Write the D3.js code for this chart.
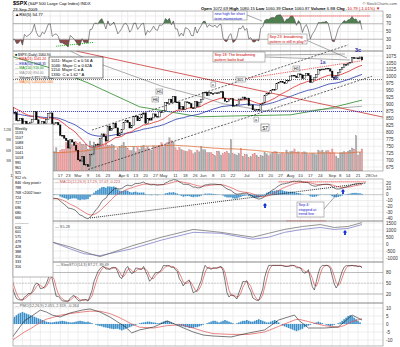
<!DOCTYPE html>
<html><head><meta charset="utf-8">
<script src="https://cdn.jsdelivr.net/npm/d3@7"></script>
<style>body{margin:0;background:#fff}svg{display:block;font-family:"Liberation Sans",Arial,sans-serif}</style>
</head><body><svg id="c" width="400" height="347"></svg>
<script>
// ---------------- DATA ----------------
const monthKeys = ["2008-12","2009-01","2009-02","2009-03","2009-04","2009-05","2009-06","2009-07","2009-08","2009-09"];
const monthDays = [
 [1,2,3,4,5,8,9,10,11,12,15,16,17,18,19,22,23,24,26,29,30,31],
 [2,5,6,7,8,9,12,13,14,15,16,20,21,22,23,26,27,28,29,30],
 [2,3,4,5,6,9,10,11,12,13,17,18,19,20,23,24,25,26,27],
 [2,3,4,5,6,9,10,11,12,13,16,17,18,19,20,23,24,25,26,27,30,31],
 [1,2,3,6,7,8,9,13,14,15,16,17,20,21,22,23,24,27,28,29,30],
 [1,4,5,6,7,8,11,12,13,14,15,18,19,20,21,22,26,27,28,29],
 [1,2,3,4,5,8,9,10,11,12,15,16,17,18,19,22,23,24,25,26,29,30],
 [1,2,6,7,8,9,10,13,14,15,16,17,20,21,22,23,24,27,28,29,30,31],
 [3,4,5,6,7,10,11,12,13,14,17,18,19,20,21,24,25,26,27,28,31],
 [1,2,3,4,8,9,10,11,14,15,16,17,18,21,22,23]
];
const futureDates = ["2009-09-24","2009-09-25","2009-09-28","2009-09-29","2009-09-30","2009-10-01","2009-10-02","2009-10-05","2009-10-06","2009-10-07","2009-10-08","2009-10-09"];
const closes = [
 816.2,848.8,870.7,845.2,876.1,909.7,888.7,899.2,873.6,879.7,868.6,913.2,904.4,885.3,887.9,871.6,863.2,868.2,872.8,869.4,890.6,903.3,
 931.8,927.5,934.7,906.7,909.7,890.4,870.3,871.8,842.6,843.7,850.1,805.2,840.2,827.5,832.0,836.6,845.7,874.1,845.1,825.9,
 825.4,838.5,832.2,845.9,868.6,869.9,827.2,833.7,835.2,826.8,789.2,788.4,778.9,770.1,743.3,773.1,764.9,752.8,735.1,
 700.8,696.3,712.9,682.6,683.4,676.5,719.6,721.4,750.7,756.6,753.9,778.1,794.4,784.0,768.5,822.9,806.1,813.9,832.9,815.9,787.5,797.9,
 811.1,834.4,842.5,835.5,815.6,825.2,856.6,858.7,841.5,852.1,865.3,869.6,832.4,850.1,843.6,851.9,866.2,857.5,855.2,873.6,872.8,
 877.5,907.2,903.8,919.5,907.4,929.2,909.2,908.4,883.9,893.1,882.9,909.7,908.1,903.5,888.3,887.0,910.3,893.1,906.8,919.1,
 942.9,944.7,931.8,942.5,940.1,939.1,942.4,939.2,944.9,946.2,923.7,912.0,910.7,918.4,921.2,893.0,895.1,900.9,920.3,918.9,927.2,919.3,
 923.3,896.4,898.7,881.0,879.6,882.7,879.1,901.1,905.8,932.7,940.7,940.4,951.1,954.6,954.1,976.3,979.3,982.2,979.6,975.2,986.8,987.5,
 1002.6,1005.7,1002.7,997.1,1010.5,1007.1,994.4,1005.8,1012.7,1004.1,979.7,989.7,996.5,1007.4,1026.1,1025.6,1028.0,1028.1,1031.0,1028.9,1020.6,
 998.0,994.8,1003.2,1016.4,1025.4,1033.4,1044.1,1042.7,1049.3,1052.6,1068.8,1065.5,1068.3,1064.7,1071.7,1060.9
];
const volumes = [
 5.0,6.0,5.5,5.2,5.5,5.6,5.8,5.4,5.3,5.1,5.0,6.4,5.8,5.9,6.8,4.3,3.9,1.5,1.4,3.3,3.6,3.8,
 4.0,4.2,5.6,4.7,5.0,4.6,4.7,5.4,6.2,7.6,5.9,6.4,6.4,5.7,5.0,4.6,5.2,7.0,5.3,5.8,
 5.8,5.3,6.4,6.1,5.6,5.0,6.9,5.6,6.7,5.3,5.9,6.2,6.2,8.2,7.1,7.6,7.5,7.0,8.4,
 7.9,8.3,7.7,7.6,7.7,6.3,8.6,7.4,8.3,6.9,7.9,8.1,9.2,7.2,10.6,7.3,7.3,7.7,7.3,6.0,6.4,6.9,
 7.3,8.1,6.9,6.4,5.9,5.9,6.9,5.5,6.8,6.2,7.0,7.4,6.4,7.0,6.3,6.0,7.2,6.8,7.0,7.3,8.1,
 6.9,7.6,8.2,9.5,8.7,8.4,6.7,6.0,6.8,6.2,5.9,5.7,5.6,6.1,5.9,4.9,5.3,6.0,5.5,7.1,
 6.1,6.1,5.3,5.3,5.3,4.8,4.4,5.7,5.6,4.6,4.9,5.3,5.6,5.0,9.0,4.9,4.8,4.6,5.0,6.4,4.2,4.7,
 4.7,3.8,4.1,4.8,5.0,4.5,4.0,4.5,4.3,5.2,4.9,4.4,4.9,5.4,5.6,5.5,4.8,5.0,5.2,4.9,6.0,5.2,
 5.6,5.7,6.3,5.4,5.5,4.9,5.4,5.5,5.2,4.8,4.9,5.1,4.9,4.7,6.0,5.6,6.0,5.3,5.8,5.9,5.3,
 6.3,5.2,4.3,3.7,5.2,5.3,5.6,5.2,5.7,6.0,6.6,6.3,10.1,4.6,5.3,6.3
];
const tickDates = ["2009-01-12","2009-01-20","2009-01-26","2009-02-02","2009-02-09","2009-02-17","2009-02-23","2009-03-02","2009-03-09","2009-03-16","2009-03-23","2009-04-01","2009-04-06","2009-04-13","2009-04-20","2009-04-27","2009-05-01","2009-05-11","2009-05-18","2009-05-26","2009-06-01","2009-06-08","2009-06-15","2009-06-22","2009-07-01","2009-07-13","2009-07-20","2009-07-27","2009-08-03","2009-08-10","2009-08-17","2009-08-24","2009-09-01","2009-09-08","2009-09-14","2009-09-21","2009-09-28","2009-10-01"];
const tickLabels = ["12","20","26","Feb","9","17","23","Mar","9","16","23","Apr","6","13","20","27","May","11","18","26","Jun","8","15","22","Jul","13","20","27","Aug","10","17","24","Sep","8","14","21","28","Oct"];
const priceTicks = [1075,1050,1025,1000,975,950,925,900,875,850,825,800,775,750,725,700,675];
const volTicks = [12,9,6,3];
const rsiTicks = [90,70,50,30,10];
const macdTicks = [20,10,0,-10,-20,-30,-40];
const p4Ticks = [1500,1000,500,0,-500,-1000];
const stoTicks = [80,50,20];
const p6Ticks = [10,5,0,-5,-10];
// panel 4 (two cumulative lines)
const p4Dates = ["2009-02-10","2009-02-24","2009-03-05","2009-03-17","2009-04-08","2009-04-30","2009-05-22","2009-06-12","2009-07-07","2009-07-17","2009-07-29","2009-08-11","2009-08-24","2009-09-02","2009-09-14","2009-09-23"];
const p4Black = [139,-208,-556,-903,-139,486,1042,833,486,764,1042,1250,1389,1181,1250,1528];
const p4Purple = [139,-347,-694,-833,-347,278,833,764,347,486,833,1042,1181,1042,1111,1389];
// panel 6 (momentum oscillator)
const p6Dates = ["2009-01-12","2009-01-21","2009-01-26","2009-02-02","2009-02-05","2009-02-10","2009-02-17","2009-02-24","2009-03-04","2009-03-10","2009-03-17","2009-03-24","2009-03-30","2009-04-03","2009-04-08","2009-04-15","2009-04-24","2009-05-05","2009-05-14","2009-05-22","2009-06-01","2009-06-08","2009-06-19","2009-07-02","2009-07-15","2009-07-24","2009-08-05","2009-08-07","2009-08-14","2009-08-26","2009-09-04","2009-09-10","2009-09-16","2009-09-23"];
const p6Black = [-8.1,2,4.4,8.7,7.5,5.6,4.4,6.9,8.7,9.4,7.5,4.4,1.2,-1.9,-5.6,-3.7,-1.9,1.9,-1.9,-5,-6.9,-7.5,-8.1,-5.6,-3.7,2.5,5.6,2.5,-2.5,-2.5,-1.9,1.2,5.6,2.5];
const p6Red = [-10,-5,-3,1,3,4,5.5,6.5,7.5,8,8,6.5,4.5,2,0,-2,-2.5,-1,-0.5,-2.5,-4.5,-6,-6.5,-6.5,-5,-1.5,2.5,3,1.5,-1,-2,-1,1.5,3.3];
const p6HistStart = "2009-01-09";
const p6Hist = [2,3,4.5,5.5,6.5,7,7.5,7,6.5,6,5.5,5,4.5,4,3.5,3,2.5,2,1.5,1.2,1,1,1.2,1.5,1.5,1.8,2,1.8,1.5,1.2,1,1,1.2,1.5,1.8,2,1.8,1.5,1.2,1.5,
 1,0.5,0,-0.5,-1,-1.2,-1.5,-2,-2.2,-2.5,-2.8,-3,-3.2,-3,-3,-3.5,-4,-3.5,-3,-2.5,-2,-1.5,-1,-0.5,0,0.5,0.8,1,1.2,1.5,
 1.5,1.2,1,0.8,0.5,0.5,1,1.5,2,2,1.5,1,0.5,0,-0.5,-1,-1.5,-1.5,-2,-2,-2.5,-2.5,-2.5,-2,-2,-1.5,-1,-0.5,0,0.5,1,1.5,2,2,1.5,1,1.5,2,2.5,2,
 1.5,1,0.5,0,0.5,1,1.5,2,2,2.5,2,1.5,1.5,2,2.5,3,2.5,2,1.5,1,1,1.5,2,2.5,2,1,0,-1,-1.5,-2,-2.5,-3,-3.5,-4,-4.5,-4,-3.5,-3,-2,-1.5,
 -1,-0.5,0,0.5,1,1.5,1,0.5,0,-0.5,-1,-1.5,-1,-0.5,0,0.5,1,2,3,4,5,5.5,5,4,3,2,1];
// long moving averages (estimated) and trend lines: [date, value]
const ma200 = [["2009-02-20",1100],["2009-03-09",1062],["2009-04-01",1018],["2009-05-01",964],["2009-06-01",926],["2009-06-15",903],["2009-07-15",878],["2009-08-14",878],["2009-09-23",894]];
const ma150 = [["2009-01-09",1075],["2009-02-10",1030],["2009-03-09",978],["2009-04-15",892],["2009-05-28",856],["2009-07-01",860],["2009-08-03",863],["2009-09-01",889],["2009-09-23",916]];
const trendRed = [["2009-02-27",1093],["2009-10-08",854]];
const trendUpper = [["2009-03-11",808],["2009-09-14",1115]];
const trendLower = [["2009-03-09",666],["2009-09-30",1002]];
const channelRed = [["2009-06-24",989],["2009-09-23",1058]];
const macdTrend = [["2009-03-10",-40],["2009-09-25",20]];
const macdRedLevel = [["2009-07-24",22],["2009-09-25",22]];
const p4RedLevel = [["2009-07-30",1650],["2009-08-27",1650]];
const level1 = 990, level2 = 875;
const pivotLevels = ["Weekly","1133","1107","1088","1061","1041","1018","991","961","925","912 r/s","846 <key pivot>","788","768 <2002 low>","724","717","696","680","666","-----------","616","601","575","479","428","388","356","333","316"];
const waveBox = ["1011: Major C = 0.56 A","1046: Major C = 0.62A","1154: Major C = A","1330: C = 1.62 * A"];

// ---------------- HELPERS ----------------
const dates = [];
monthKeys.forEach((m,k)=>monthDays[k].forEach(d=>dates.push(m+"-"+String(d).padStart(2,"0"))));
const allDates = dates.concat(futureDates);
const idx = d => allDates.indexOf(d);
function ema(a,n){const k=2/(n+1);let e=a[0];return a.map((v,i)=>(e=i?v*k+e*(1-k):v));}
function sma(a,n){return a.map((v,i)=>{const s=a.slice(Math.max(0,i-n+1),i+1);return d3.mean(s);});}
function rsi(c,n){const out=c.map(()=>null);let g=0,l=0;for(let i=1;i<=n;i++){const d=c[i]-c[i-1];if(d>0)g+=d;else l-=d;}g/=n;l/=n;out[n]=100-100/(1+g/l);
 for(let i=n+1;i<c.length;i++){const d=c[i]-c[i-1];g=(g*(n-1)+Math.max(d,0))/n;l=(l*(n-1)+Math.max(-d,0))/n;out[i]=l===0?100:100-100/(1+g/l);}return out;}
const ema21 = ema(closes,21), ema50 = ema(closes,50);
const e26 = ema(closes,26), e12 = ema(closes,12);
const macdLine = e12.map((v,i)=>v-e26[i]);
const macdSig = ema(macdLine,9);
const macdHist = macdLine.map((v,i)=>v-macdSig[i]);
const rsi5 = rsi(closes,5);
const rawK = closes.map((c,i)=>{const w=closes.slice(Math.max(0,i-13),i+1);const lo=d3.min(w),hi=d3.max(w);return hi===lo?50:(c-lo)/(hi-lo)*100;});
const slowK = sma(rawK,3), slowD = sma(slowK,3);
const volMA = sma(volumes,50);
const last = a=>a[a.length-1];
const f2 = d3.format(".2f");
const legendText = [["$SPX (Daily) "+f2(last(closes)),"#000"],["EMA(21) "+f2(last(ema21)),"#d00"],["EMA(50) "+f2(last(ema50)),"#22a"],["MA(150) "+f2(last(ma150)[1]),"#080"],["MA(200) "+f2(last(ma200)[1]),"#888"],["Volume 6,815,130,000","#000"],["MA(50) "+d3.format(",")(Math.round(last(volMA)*1e9)),"#e60"]];

// ---------------- LAYOUT ----------------
const svg = d3.select("#c");
const X0=13, X1=383;
const x = d3.scaleLinear().domain([idx("2009-03-09"), idx("2009-09-23")]).range([88,362]);
const panels = [
 {t:11,b:51},{t:51,b:171},{t:179,b:221},{t:221,b:262},{t:262,b:303},{t:303,b:346}
];
const yR = d3.scaleLinear([0,100],[50.9,12.1]);
const yP = d3.scaleLinear([675,1075],[167,56]);
const yV = d3.scaleLinear([0,12],[171,129]);
const yM = d3.scaleLinear([-40,20],[218,183]);
const y4 = d3.scaleLinear([-1000,1500],[258,223]);
const yS = d3.scaleLinear([20,80],[294,272.5]);
const y6 = d3.scaleLinear([-10,10],[340,308]);

const defs = svg.append("defs");
defs.append("clipPath").attr("id","cp").append("rect").attr("x",X0).attr("y",0).attr("width",X1-X0).attr("height",347);
defs.append("clipPath").attr("id","cpP").append("rect").attr("x",X0).attr("y",51).attr("width",X1-X0).attr("height",120);
const grid = svg.append("g");
const plot = svg.append("g").attr("clip-path","url(#cp)");
const fs = 4.6;

panels.forEach(p=>{
  tickDates.forEach(d=>{const xx=x(idx(d)); if(xx>X0&&xx<X1) grid.append("line").attr("x1",xx).attr("x2",xx).attr("y1",p.t).attr("y2",p.b).attr("stroke","#e2e2e2").attr("stroke-width",0.6);});
});
function hgrid(ticks,y){
  ticks.forEach(t=>{grid.append("line").attr("x1",X0).attr("x2",X1).attr("y1",y(t)).attr("y2",y(t)).attr("stroke","#e2e2e2").attr("stroke-width",0.6);
   svg.append("text").attr("x",386).attr("y",y(t)+1.6).attr("font-size",fs).attr("fill","#333").text(t);});
}
hgrid(rsiTicks,yR); hgrid(priceTicks,yP); hgrid(macdTicks,yM); hgrid(p4Ticks,y4); hgrid(stoTicks,yS); hgrid(p6Ticks,y6);
volTicks.forEach(t=>svg.append("text").attr("x",11).attr("y",yV(t)+1.5).attr("text-anchor","end").attr("font-size",4.2).attr("fill","#555").text(t+"B"));

tickDates.forEach((d,k)=>{const xx=x(idx(d)); if(xx>X0-2&&xx<X1+4) svg.append("text").attr("x",xx).attr("y",176.5).attr("font-size",4.3).attr("text-anchor","middle").attr("fill","#333").text(tickLabels[k]);});

const first = idx("2009-01-08");
const rng = d3.range(first, dates.length);
const line = (y,arr)=>d3.line().x(i=>x(i)).y(i=>y(arr[i]))(rng);
const seg = (y,arr)=>d3.line().x(d=>x(idx(d[0]))).y(d=>y(d[1]))(arr);

// ---- Panel 1 RSI
defs.append("clipPath").attr("id","cHi").append("rect").attr("x",X0).attr("y",0).attr("width",X1-X0).attr("height",yR(70));
defs.append("clipPath").attr("id","cLo").append("rect").attr("x",X0).attr("y",yR(30)).attr("width",X1-X0).attr("height",yR(0)-yR(30));
plot.append("g").attr("clip-path","url(#cHi)").append("path").attr("d",d3.area().x(i=>x(i)).y0(yR(70)).y1(i=>yR(rsi5[i]))(rng)).attr("fill","#4f7f4f");
plot.append("g").attr("clip-path","url(#cLo)").append("path").attr("d",d3.area().x(i=>x(i)).y0(yR(30)).y1(i=>yR(rsi5[i]))(rng)).attr("fill","#8a4a4a");
[70,30].forEach(v=>plot.append("line").attr("x1",X0).attr("x2",X1).attr("y1",yR(v)).attr("y2",yR(v)).attr("stroke","#999").attr("stroke-width",0.6));
plot.append("path").attr("d",line(yR,rsi5)).attr("fill","none").attr("stroke","#444").attr("stroke-width",0.6);
plot.append("path").attr("d",seg(yR,[["2009-07-28",90],["2009-09-29",90]])).attr("stroke","#e00").attr("stroke-width",0.9).attr("stroke-dasharray","1,1");
plot.append("path").attr("d",seg(yR,[["2009-02-12",12],["2009-03-12",22]])).attr("stroke","#0a0").attr("stroke-width",0.9).attr("stroke-dasharray","1,1");

// ---- Panel 2 price
const pp = plot.append("g").attr("clip-path","url(#cpP)");
rng.forEach(i=>{
  const dn = closes[i]<closes[i-1];
  pp.append("rect").attr("x",x(i)-0.8).attr("width",1.6).attr("y",yV(volumes[i])).attr("height",yV(0)-yV(volumes[i]))
   .attr("fill",dn?"#eaa0a0":"#a8a8a8").attr("stroke",dn?"#d77":"#999").attr("stroke-width",0.2);
});
pp.append("path").attr("d",line(yV,volMA)).attr("fill","none").attr("stroke","#e0703a").attr("stroke-width",0.8);
pp.append("path").attr("d",seg(yP,ma200)).attr("fill","none").attr("stroke","#999").attr("stroke-width",0.8);
pp.append("path").attr("d",seg(yP,ma150)).attr("fill","none").attr("stroke","#2a8a2a").attr("stroke-width",0.8);
pp.append("path").attr("d",seg(yP,trendRed)).attr("fill","none").attr("stroke","#c33").attr("stroke-width",0.8);
pp.append("path").attr("d",seg(yP,channelRed)).attr("fill","none").attr("stroke","#e33").attr("stroke-width",0.8).attr("stroke-dasharray","1.2,1");
pp.append("path").attr("d",seg(yP,trendLower)).attr("fill","none").attr("stroke","#000").attr("stroke-width",0.6).attr("stroke-dasharray","2,1.5");
pp.append("line").attr("x1",X0).attr("x2",X1).attr("y1",yP(level1)).attr("y2",yP(level1)).attr("stroke","#000").attr("stroke-width",0.6).attr("stroke-dasharray","1,1");
pp.append("line").attr("x1",X0).attr("x2",X1).attr("y1",yP(level2)).attr("y2",yP(level2)).attr("stroke","#22c").attr("stroke-width",0.8).attr("stroke-dasharray","1,1");
pp.append("path").attr("d",line(yP,ema50)).attr("fill","none").attr("stroke","#2233aa").attr("stroke-width",0.8);
pp.append("path").attr("d",line(yP,ema21)).attr("fill","none").attr("stroke","#dd2222").attr("stroke-width",0.8);
rng.forEach(i=>{
  const o=closes[i-1], c=closes[i], up=c>=o;
  const y1=yP(Math.max(o,c)), h=Math.max(0.8,Math.abs(yP(o)-yP(c)));
  pp.append("rect").attr("x",x(i)-0.75).attr("width",1.5).attr("y",y1).attr("height",h)
   .attr("fill",up?"#fff":"#000").attr("stroke","#000").attr("stroke-width",0.45);
});
plot.append("path").attr("d",seg(yP,trendUpper)).attr("fill","none").attr("stroke","#000").attr("stroke-width",0.6).attr("stroke-dasharray","2,1.5");

// ---- Panel 3 MACD
plot.append("line").attr("x1",X0).attr("x2",X1).attr("y1",yM(0)).attr("y2",yM(0)).attr("stroke","#aaa").attr("stroke-width",0.5);
rng.forEach(i=>{const v=macdHist[i];plot.append("rect").attr("x",x(i)-0.8).attr("width",1.6).attr("y",Math.min(yM(v),yM(0))).attr("height",Math.abs(yM(v)-yM(0))).attr("fill","#3a8fc8");});
plot.append("path").attr("d",seg(yM,macdTrend)).attr("stroke","#000").attr("stroke-width",0.8).attr("stroke-dasharray","1,1");
plot.append("path").attr("d",seg(yM,macdRedLevel)).attr("stroke","#e00").attr("stroke-width",0.9).attr("stroke-dasharray","1,1");
plot.append("path").attr("d",line(yM,macdSig)).attr("fill","none").attr("stroke","#e05050").attr("stroke-width",0.7);
plot.append("path").attr("d",line(yM,macdLine)).attr("fill","none").attr("stroke","#222").attr("stroke-width",0.6);

// ---- Panel 4
const l4 = arr=>d3.line().x((d,k)=>x(idx(p4Dates[k]))).y(d=>y4(d))(arr);
plot.append("path").attr("d",seg(y4,p4RedLevel)).attr("stroke","#e00").attr("stroke-width",0.9).attr("stroke-dasharray","1,1");
plot.append("path").attr("d",l4(p4Purple)).attr("fill","none").attr("stroke","#7070c0").attr("stroke-width",0.7);
plot.append("path").attr("d",l4(p4Black)).attr("fill","none").attr("stroke","#666").attr("stroke-width",0.7);

// ---- Panel 5 stochastic
[80,20].forEach(v=>plot.append("line").attr("x1",X0).attr("x2",X1).attr("y1",yS(v)).attr("y2",yS(v)).attr("stroke","#999").attr("stroke-width",0.6));
plot.append("line").attr("x1",X0).attr("x2",X1).attr("y1",yS(50)).attr("y2",yS(50)).attr("stroke","#bbb").attr("stroke-width",0.6).attr("stroke-dasharray","2,1");
plot.append("path").attr("d",line(yS,slowD)).attr("fill","none").attr("stroke","#e05050").attr("stroke-width",0.7);
plot.append("path").attr("d",line(yS,slowK)).attr("fill","none").attr("stroke","#222").attr("stroke-width",0.6);

// ---- Panel 6
const h0 = idx(p6HistStart);
p6Hist.forEach((v,k)=>{const i=h0+k;plot.append("rect").attr("x",x(i)-0.8).attr("width",1.6).attr("y",Math.min(y6(v),y6(0))).attr("height",Math.abs(y6(v)-y6(0))).attr("fill","#3a8fc8");});
const l6 = arr=>d3.line().x((d,k)=>x(idx(p6Dates[k]))).y(d=>y6(d))(arr);
plot.append("path").attr("d",l6(p6Red)).attr("fill","none").attr("stroke","#e05050").attr("stroke-width",0.7);
plot.append("path").attr("d",l6(p6Black)).attr("fill","none").attr("stroke","#222").attr("stroke-width",0.6);

panels.forEach(p=>svg.append("rect").attr("x",X0).attr("y",p.t).attr("width",X1-X0).attr("height",p.b-p.t).attr("fill","none").attr("stroke","#888").attr("stroke-width",0.6));

// ---------------- TEXT ----------------
const T=(x0,y0,s,o={})=>{const t=svg.append("text").attr("x",x0).attr("y",y0).attr("font-size",o.fs||fs).attr("fill",o.c||"#000").text(s);
 if(o.b)t.attr("font-weight","bold"); if(o.a)t.attr("text-anchor",o.a); return t;};
T(13,5,"$SPX",{b:1,fs:5.5}); T(28,5,"(S&P 500 Large Cap Index) INDX",{fs:4.2});
T(13,10.5,"23-Sep-2009",{fs:4.2});
T(15,16,"▲RSI(5) 54.77",{fs:4.2});
const hdr = svg.append("text").attr("x",201).attr("y",9.6).attr("font-size",4.2);
[["Open ",1],["1072.69  ",0],["High ",1],["1080.15  ",0],["Low ",1],["1060.39  ",0],["Close ",1],["1060.87  ",0],["Volume ",1],["6.8B  ",0],["Chg ",1],["-10.79 (-1.01%) ▼",0]]
 .forEach(([s,b])=>hdr.append("tspan").attr("font-weight",b?"bold":"normal").attr("fill",s.startsWith("-10")?"#c00":"#000").text(s));
T(397,4.5,"© StockCharts.com",{fs:4,a:"end",c:"#555"});
legendText.forEach(([s,c],k)=>{T(15,55.5+k*4.6,(k===0?"■ ":"— ")+s,{fs:3.4,c});});
svg.append("rect").attr("x",49).attr("y",57).attr("width",54).attr("height",21).attr("fill","#fff").attr("stroke","#000").attr("stroke-width",0.5);
waveBox.forEach((s,k)=>T(51,62+k*4.7,s,{fs:4.1}));
function note(x0,y0,w,h,lines,c){svg.append("rect").attr("x",x0).attr("y",y0).attr("width",w).attr("height",h).attr("fill","#fff").attr("stroke","#777").attr("stroke-width",0.5);
 lines.forEach((s,k)=>T(x0+1.5,y0+4.3+k*4.3,s,{fs:3.8,c}));}
const ln=(a,b,c,d)=>svg.append("line").attr("x1",a).attr("y1",b).attr("x2",c).attr("y2",d).attr("stroke","#555").attr("stroke-width",0.5);
ln(247,15,262,21); note(213,11,34,9,["new high for short","term momentum"],"#22c");
ln(306,40,347,58); note(268,34,39,10,["Sep 23: broadening","pattern is still in play?"],"#c00");
ln(265,55,345,54); ln(265,57,350,60); note(213,52,52,10,["Sep 18: The broadening","pattern looks bad"],"#c00");
ln(324,209,338,193); note(297,202,27,15,["Sep 4:","stopped at","trend line"],"#22c");
T(355,52,"3c",{fs:5.5,c:"#1a1aa0",b:1});
T(320,64,"1a",{fs:5,c:"#1a1aa0"});
T(333,80,"2b",{fs:5,c:"#1a1aa0"});
[["H5",156,89],["H6",152,97],["305",236,77],["x",211,82],["a",254,117],["H1",293,66]].forEach(([s,a,b])=>{
 svg.append("rect").attr("x",a).attr("y",b).attr("width",s.length*2.4+2).attr("height",5).attr("fill","#fff").attr("stroke","#555").attr("stroke-width",0.4);
 T(a+1,b+4,s,{fs:3.8});});
svg.append("rect").attr("x",261).attr("y",124).attr("width",8).attr("height",7).attr("fill","#fff").attr("stroke","#555").attr("stroke-width",0.5);
T(262.3,129.5,"S7",{fs:4.6});
[[265,207],[343,193],[345,234]].forEach(([a,b])=>svg.append("path").attr("d",`M${a},${b-4}l-2.2,2.4h1.3v2.6h1.8v-2.6h1.3z`).attr("fill","#1030d0"));
T(55,183,"— MACD(12,26,9) 17.29, 17.07, 0.223",{fs:3.8,c:"#c55"});
T(55,228,"— S5-28",{fs:3.8,c:"#555"});
T(56,265.5,"— SlowSTO(14,3) 87.27, 89.69",{fs:3.8,c:"#555"});
T(15,307,"— PMO(12,26,9) 2.055, 2.319, -0.264",{fs:3.8,c:"#555"});
svg.append("rect").attr("x",13).attr("y",124).attr("width",40).attr("height",153).attr("fill","#fff").attr("stroke","#888").attr("stroke-width",0.6);
pivotLevels.forEach((s,k)=>T(15,129.5+k*4.95,s,{fs:3.7}));
</script></body></html>
